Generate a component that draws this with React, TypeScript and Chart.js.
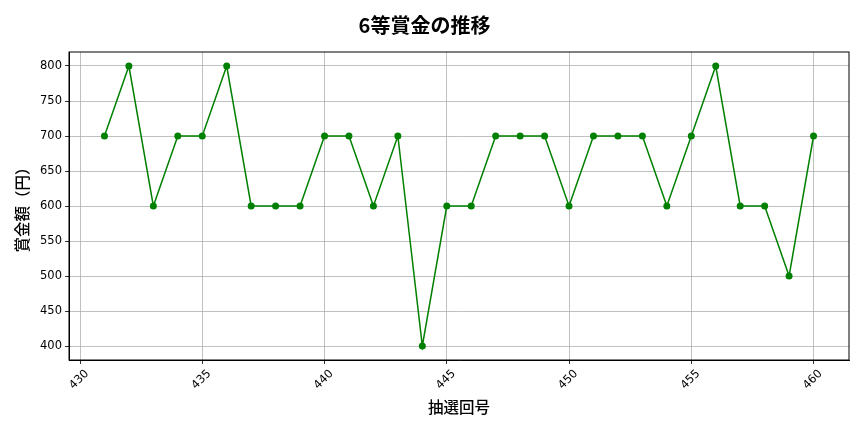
import { useEffect, useRef } from 'react';
import { Chart, registerables } from 'chart.js';

Chart.register(...registerables);

// 抽選回号 and 6等 prize amounts (yen)
const drawNumbers = [
  431, 432, 433, 434, 435, 436, 437, 438, 439, 440,
  441, 442, 443, 444, 445, 446, 447, 448, 449, 450,
  451, 452, 453, 454, 455, 456, 457, 458, 459, 460,
];
const prizeValues = [
  700, 800, 600, 700, 700, 800, 600, 600, 600, 700,
  700, 600, 700, 400, 600, 600, 700, 700, 700, 600,
  700, 700, 700, 600, 700, 800, 600, 600, 500, 700,
];
const xTicks = [430, 435, 440, 445, 450, 455, 460];
const yTicks = [400, 450, 500, 550, 600, 650, 700, 750, 800];

const JP_FONT = '"Noto Sans CJK JP", "Noto Sans", sans-serif';
const TICK_FONT = '"DejaVu Sans", sans-serif';

// draws the top and right spines so the plot is boxed like matplotlib
const frameBox = {
  id: 'frameBox',
  afterDraw(chart: Chart) {
    const { ctx, chartArea } = chart;
    ctx.save();
    ctx.strokeStyle = '#000';
    ctx.lineWidth = 1;
    ctx.strokeRect(chartArea.left, chartArea.top, chartArea.right - chartArea.left, chartArea.bottom - chartArea.top);
    ctx.restore();
  },
};

export default function App() {
  const canvasRef = useRef<HTMLCanvasElement>(null);

  useEffect(() => {
    if (!canvasRef.current) return;
    const ctx = canvasRef.current.getContext('2d');
    if (!ctx) return;

    const chart = new Chart(ctx, {
      type: 'line',
      data: {
        datasets: [
          {
            label: '6等賞金',
            data: drawNumbers.map((n, i) => ({ x: n, y: prizeValues[i] })),
            borderColor: '#008000',
            backgroundColor: '#008000',
            borderWidth: 1.5,
            pointRadius: 3.5,
            pointHoverRadius: 3.5,
            pointBorderWidth: 0,
            tension: 0,
            fill: false,
          },
        ],
      },
      options: {
        animation: false,
        responsive: true,
        maintainAspectRatio: false,
        layout: { padding: { left: 0, right: 15, top: 0, bottom: 0 } },
        plugins: {
          legend: { display: false },
          tooltip: { enabled: false },
          title: {
            display: true,
            text: '6等賞金の推移',
            color: '#000',
            font: { family: JP_FONT, size: 20, weight: 'bold', lineHeight: 1.2 },
            padding: { top: 13, bottom: 15 },
          },
        },
        scales: {
          x: {
            type: 'linear',
            min: 429.55,
            max: 461.45,
            afterBuildTicks: (scale: any) => {
              scale.ticks = xTicks.map(v => ({ value: v }));
            },
            afterFit: (scale: any) => {
              scale.height = 72;
            },
            ticks: {
              color: '#000',
              font: { family: TICK_FONT, size: 11.5 },
              minRotation: 45,
              maxRotation: 45,
              padding: 3,
              labelOffset: 7,
            },
            grid: {
              color: '#b0b0b0',
              lineWidth: 0.8,
              tickColor: '#000',
              tickLength: 4,
            },
            border: { color: '#000', width: 1 },
            title: {
              display: true,
              text: '抽選回号',
              color: '#000',
              font: { family: JP_FONT, size: 15.5, weight: 500, lineHeight: 1.2 },
              padding: { top: 0, bottom: 15.5 },
            },
          },
          y: {
            type: 'linear',
            min: 380,
            max: 820,
            afterBuildTicks: (scale: any) => {
              scale.ticks = yTicks.map(v => ({ value: v }));
            },
            afterFit: (scale: any) => {
              scale.width = 69;
            },
            ticks: {
              color: '#000',
              font: { family: TICK_FONT, size: 11.5 },
              padding: 3,
            },
            grid: {
              color: '#b0b0b0',
              lineWidth: 0.8,
              tickColor: '#000',
              tickLength: 4,
            },
            border: { color: '#000', width: 1 },
            title: {
              display: true,
              text: '賞金額（円）',
              color: '#000',
              font: { family: JP_FONT, size: 15.5, weight: 500, lineHeight: 1.2 },
              padding: { top: 13.2, bottom: 0 },
            },
          },
        },
      },
      plugins: [frameBox],
    });

    return () => {
      chart.destroy();
    };
  }, []);

  return (
    <div style={{ position: 'fixed', left: 0, top: 0, width: '864px', height: '432px', background: '#fff' }}>
      <canvas ref={canvasRef}></canvas>
    </div>
  );
}
